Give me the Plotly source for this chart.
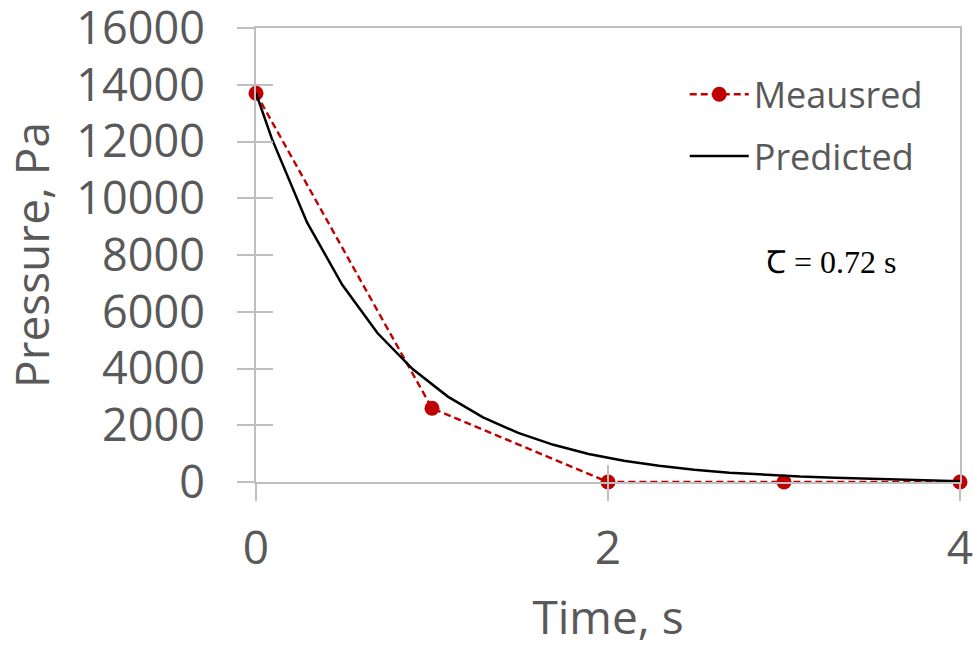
import plotly.graph_objects as go

# Measured data
meas_t = [0, 1, 2, 3, 4]
meas_p = [13700, 2600, 0, 0, 0]

# Predicted curve
pred_t = [0, 0.09, 0.29, 0.49, 0.69, 0.89, 1.09, 1.29, 1.49, 1.69, 1.89,
          2.09, 2.29, 2.49, 2.69, 2.89, 3.09, 3.29, 3.49, 3.69, 3.89, 4.0]
pred_p = [13700, 12100, 9150, 6950, 5250, 3980, 3010, 2280, 1730, 1310, 990,
          750, 570, 430, 330, 250, 190, 150, 115, 60, 40, 30]

x_ticks = [0, 2, 4]
y_ticks = [0, 2000, 4000, 6000, 8000, 10000, 12000, 14000, 16000]
y_tick_text = ["0", "2000", "4000", "6000", "8000", "10000", "12000", "14000", "16000"]
annot_text = "Ꞇ = 0.72 s"

AX = "#bfbfbf"
TXT = "#595959"
FONT = "Open Sans"
Y_RANGE = [0, 16000.01]

fig = go.Figure()
fig.add_trace(go.Scatter(
    x=meas_t, y=meas_p, name="Meausred", mode="lines+markers",
    line=dict(color="#c00000", width=2.4, dash="7px,4px"),
    marker=dict(color="#c00000", size=15), legendgroup="a", cliponaxis=False))
fig.add_trace(go.Scatter(
    x=pred_t, y=pred_p, name="Predicted", mode="lines",
    line=dict(color="black", width=2.5), legendgroup="b", cliponaxis=False))
# dummy trace to activate overlay axes (inside halves of cross ticks)
fig.add_trace(go.Scatter(x=[None], y=[None], xaxis="x2", yaxis="y2",
                         showlegend=False, hoverinfo="skip"))

fig.update_layout(
    width=973, height=647,
    margin=dict(l=256, r=13, t=28, b=165),
    plot_bgcolor="white", paper_bgcolor="white",
    font=dict(family=FONT, color=TXT),
    xaxis=dict(range=[0, 4], tickvals=x_ticks, showgrid=False, zeroline=False,
               showline=True, linecolor=AX, linewidth=2, mirror=True,
               ticks="outside", ticklen=17, tickwidth=2, tickcolor=AX,
               tickfont=dict(size=46, color=TXT, family=FONT),
               ticklabelstandoff=8, automargin=False, ticklabeloverflow="allow",
               title=dict(text="Time, s", font=dict(size=46, color=TXT, family=FONT),
                          standoff=36)),
    yaxis=dict(range=Y_RANGE, tickvals=y_ticks, ticktext=y_tick_text,
               showgrid=False, zeroline=False,
               showline=True, linecolor=AX, linewidth=2, mirror=True,
               ticks="outside", ticklen=17, tickwidth=2, tickcolor=AX,
               tickfont=dict(size=45, color=TXT, family=FONT),
               ticklabelstandoff=23, automargin=False, ticklabeloverflow="allow",
               title=dict(text="Pressure, Pa", font=dict(size=46, color=TXT, family=FONT),
                          standoff=20)),
    xaxis2=dict(range=[0, 4], tickvals=x_ticks, overlaying="x", anchor="y2",
                showgrid=False, zeroline=False, showline=False,
                ticks="inside", ticklen=17, tickwidth=2, tickcolor=AX,
                showticklabels=False, automargin=False),
    yaxis2=dict(range=Y_RANGE, tickvals=y_ticks, overlaying="y", anchor="x2",
                showgrid=False, zeroline=False, showline=False,
                ticks="inside", ticklen=17, tickwidth=2, tickcolor=AX,
                showticklabels=False, automargin=False),
    legend=dict(x=0.609, y=0.92, xanchor="left", yanchor="top",
                font=dict(size=36, color=TXT, family=FONT),
                bgcolor="rgba(0,0,0,0)", tracegroupgap=12,
                traceorder="grouped", itemwidth=59),
    showlegend=True,
    annotations=[dict(x=3.27, y=7760, xref="x", yref="y", text=annot_text,
                      showarrow=False,
                      font=dict(family="Liberation Serif", size=32, color="black"))],
)

fig.write_html("out.html")
